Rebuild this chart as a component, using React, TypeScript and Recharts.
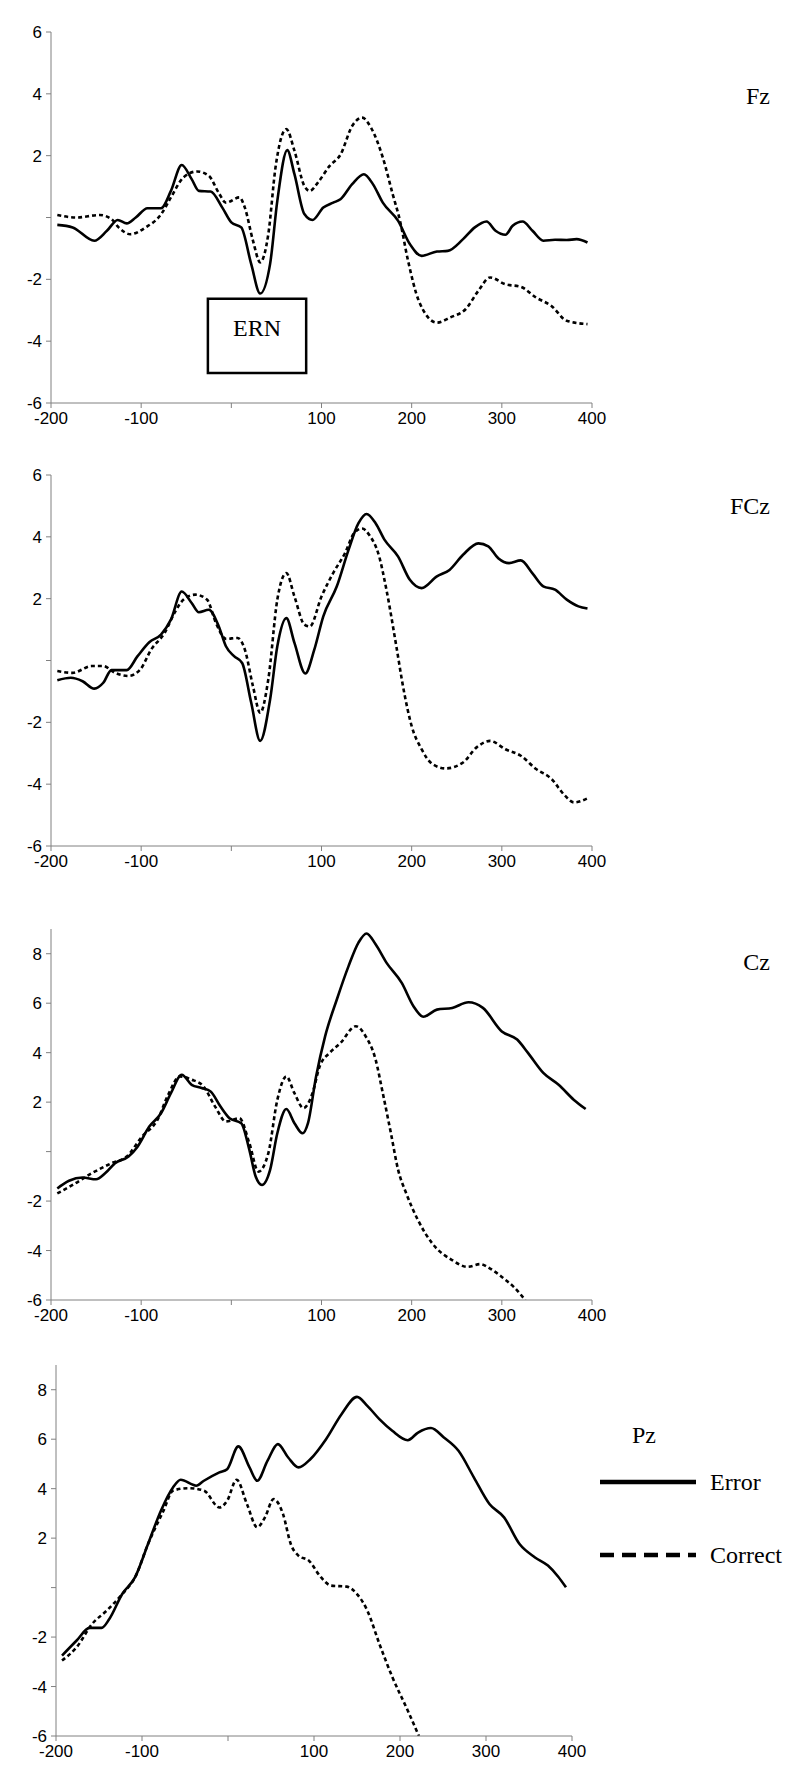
import { LineChart, Line, XAxis, YAxis, ReferenceArea, Label } from 'recharts';

// time axis (ms) and voltage ticks
const timeTicks = [-200, -100, 0, 100, 200, 300, 400];
const voltTicks6 = [-6, -4, -2, 0, 2, 4, 6];
const voltTicks8 = [-6, -4, -2, 0, 2, 4, 6, 8];

// [ms, µV]
const fzError = [
  [-193, -0.24], [-176, -0.32], [-152, -0.75], [-138, -0.43], [-126, -0.08], [-116, -0.19],
  [-106, 0], [-93, 0.3], [-78, 0.3], [-67, 0.86], [-55, 1.7], [-44, 1.24], [-36, 0.86],
  [-23, 0.84], [-10, 0.32], [0, -0.16], [11, -0.32], [22, -1.5], [32, -2.46], [43, -1.5],
  [51, 0.54], [62, 2.18], [70, 1.4], [81, 0.11], [90, -0.08], [102, 0.32], [113, 0.48],
  [121, 0.59], [134, 1.08], [147, 1.4], [157, 1.08], [168, 0.48], [185, -0.11], [198, -0.86],
  [211, -1.24], [228, -1.1], [240, -1.08], [257, -0.7], [270, -0.32], [283, -0.13], [293, -0.43],
  [304, -0.56], [312, -0.27], [323, -0.13], [334, -0.43], [346, -0.75], [359, -0.72],
  [372, -0.73], [383, -0.7], [395, -0.81],
];
const fzCorrect = [
  [-193, 0.08], [-172, 0], [-146, 0.08], [-133, -0.05], [-125, -0.32], [-112, -0.54],
  [-95, -0.32], [-78, 0.1], [-67, 0.65], [-53, 1.3], [-38, 1.49], [-25, 1.35], [-14, 0.8],
  [-6, 0.48], [9, 0.65], [15, 0.32], [24, -0.75], [32, -1.45], [41, -0.54], [49, 1.62],
  [61, 2.86], [70, 2.16], [81, 1.02], [87, 0.86], [96, 1.13], [109, 1.67], [121, 2.03],
  [134, 2.96], [145, 3.23], [155, 2.9], [168, 1.94], [179, 0.75], [187, -0.1], [196, -1.4],
  [208, -2.7], [228, -3.4], [243, -3.23], [260, -2.96], [274, -2.37], [287, -1.94],
  [304, -2.16], [321, -2.24], [338, -2.59], [355, -2.86], [372, -3.34], [395, -3.45],
];

const fczError = [
  [-193, -0.64], [-178, -0.56], [-165, -0.67], [-152, -0.91], [-142, -0.72], [-133, -0.31],
  [-116, -0.31], [-104, 0.14], [-91, 0.59], [-78, 0.84], [-67, 1.32], [-55, 2.23], [-44, 1.86],
  [-36, 1.56], [-25, 1.64], [-14, 1.11], [-6, 0.46], [3, 0.14], [12, -0.08], [22, -1.36],
  [32, -2.6], [43, -1.26], [51, 0.46], [61, 1.37], [70, 0.57], [82, -0.42], [92, 0.35],
  [102, 1.43], [117, 2.4], [130, 3.58], [141, 4.44], [150, 4.74], [160, 4.44], [170, 3.9],
  [185, 3.36], [198, 2.61], [211, 2.34], [228, 2.72], [242, 2.93], [257, 3.42], [274, 3.79],
  [285, 3.69], [296, 3.31], [308, 3.15], [321, 3.24], [334, 2.82], [346, 2.4], [359, 2.29],
  [372, 1.97], [385, 1.75], [395, 1.68],
];
const fczCorrect = [
  [-193, -0.34], [-176, -0.4], [-155, -0.18], [-142, -0.18], [-129, -0.4], [-114, -0.5],
  [-101, -0.29], [-89, 0.35], [-74, 0.89], [-63, 1.54], [-53, 1.97], [-40, 2.13], [-27, 1.97],
  [-17, 1.21], [-6, 0.7], [7, 0.73], [15, 0.35], [24, -0.83], [32, -1.69], [41, -0.61],
  [51, 1.97], [61, 2.83], [70, 2.07], [81, 1.16], [87, 1.1], [100, 2.07], [113, 2.83],
  [126, 3.47], [136, 4.11], [145, 4.27], [153, 4.06], [164, 3.36], [172, 2.29], [183, 0.46],
  [191, -0.93], [200, -2.12], [211, -2.87], [223, -3.35], [238, -3.49], [257, -3.3],
  [272, -2.81], [287, -2.6], [304, -2.87], [321, -3.08], [338, -3.51], [355, -3.83],
  [370, -4.37], [380, -4.59], [395, -4.46],
];

const czError = [
  [-193, -1.49], [-180, -1.18], [-165, -1.05], [-150, -1.12], [-140, -0.88], [-129, -0.47],
  [-114, -0.2], [-104, 0.2], [-91, 1.01], [-78, 1.55], [-67, 2.36], [-55, 3.11], [-44, 2.7],
  [-33, 2.57], [-23, 2.43], [-12, 1.82], [-2, 1.35], [11, 1.15], [20, 0.07], [27, -1.01],
  [34, -1.35], [43, -0.74], [51, 0.74], [61, 1.72], [70, 1.15], [79, 0.74], [85, 1.15],
  [94, 3.04], [104, 4.66], [117, 6.15], [130, 7.5], [141, 8.45], [150, 8.82], [160, 8.38],
  [172, 7.64], [189, 6.82], [202, 5.88], [213, 5.45], [228, 5.74], [245, 5.81], [263, 6.04],
  [279, 5.81], [300, 4.86], [317, 4.53], [329, 3.99], [346, 3.18], [363, 2.7], [380, 2.09],
  [393, 1.72],
];
const czCorrect = [
  [-193, -1.69], [-176, -1.35], [-155, -0.88], [-133, -0.47], [-116, -0.2], [-99, 0.61],
  [-82, 1.28], [-70, 2.3], [-57, 3.04], [-44, 2.91], [-31, 2.64], [-18, 1.82], [-6, 1.22],
  [9, 1.35], [20, 0.34], [30, -0.81], [41, -0.07], [51, 2.09], [61, 3.04], [70, 2.36],
  [80, 1.76], [90, 2.36], [98, 3.45], [109, 3.99], [121, 4.39], [138, 5.07], [149, 4.66],
  [160, 3.72], [168, 2.36], [177, 0.74], [185, -0.74], [194, -1.69], [207, -2.77],
  [223, -3.72], [245, -4.39], [262, -4.66], [276, -4.55], [287, -4.73], [300, -5.07],
  [314, -5.5], [326, -6],
];

const pzError = [
  [-193, -2.75], [-176, -2.14], [-161, -1.63], [-147, -1.63], [-138, -1.27], [-123, -0.26],
  [-108, 0.42], [-93, 1.76], [-78, 3.11], [-64, 4.05], [-55, 4.36], [-37, 4.12], [-28, 4.32],
  [-10, 4.66], [-1, 4.79], [12, 5.71], [25, 4.86], [34, 4.32], [46, 5.13], [58, 5.8],
  [70, 5.26], [82, 4.86], [96, 5.2], [114, 6.0], [132, 7.01], [150, 7.71], [162, 7.35],
  [176, 6.81], [191, 6.34], [209, 5.96], [221, 6.27], [236, 6.45], [251, 6.07], [268, 5.53],
  [286, 4.45], [304, 3.38], [321, 2.84], [339, 1.76], [357, 1.22], [372, 0.89], [384, 0.44],
  [393, 0.01],
];
const pzCorrect = [
  [-193, -2.95], [-176, -2.41], [-158, -1.47], [-141, -0.93], [-123, -0.26], [-108, 0.42],
  [-93, 1.76], [-75, 3.11], [-64, 3.92], [-46, 4.02], [-28, 3.92], [-10, 3.24], [-1, 3.51],
  [10, 4.36], [22, 3.38], [34, 2.44], [43, 2.84], [53, 3.58], [64, 2.97], [73, 1.76],
  [82, 1.29], [94, 1.09], [108, 0.42], [120, 0.08], [138, 0.04], [150, -0.26], [162, -0.93],
  [176, -2.27], [191, -3.61], [209, -4.97], [222, -6],
];

const toRows = (pts: number[][]) => pts.map(([t, v]) => ({ t, v }));

const sans = '"Liberation Sans", Arial, sans-serif';
const serif = '"Liberation Serif", "Times New Roman", serif';
const axisColor = '#808080';

interface PanelProps {
  error: number[][];
  correct: number[][];
  yMax: number;
  yTicks: number[];
  top: number;
  axisLeft: number;
  axisRight: number;
  children?: React.ReactNode;
}

// plot area spans 32px..403px inside each chart, x-axis strip below it
function Panel({ error, correct, yMax, yTicks, top, axisLeft, axisRight, children }: PanelProps) {
  const tickStyle = { fill: '#000', fontSize: 17, fontFamily: sans };
  return (
    <div style={{ position: 'absolute', left: 0, top }}>
      <LineChart width={800} height={435} margin={{ top: 32, right: 800 - axisRight, left: 0, bottom: 0 }}>
        <XAxis
          type="number"
          dataKey="t"
          domain={[-200, 400]}
          ticks={timeTicks}
          height={32}
          stroke={axisColor}
          tickLine={{ stroke: axisColor }}
          tickSize={5}
          tickMargin={4}
          tick={tickStyle}
          tickFormatter={(v) => (v === 0 ? '' : String(v))}
          allowDataOverflow
        />
        <YAxis
          type="number"
          domain={[-6, yMax]}
          ticks={yTicks}
          width={axisLeft}
          stroke={axisColor}
          tickLine={{ stroke: axisColor }}
          tickSize={5}
          tickMargin={4}
          tick={tickStyle}
          tickFormatter={(v) => (v === 0 ? '' : String(v))}
          allowDataOverflow
        />
        {children}
        <Line
          data={toRows(correct)}
          dataKey="v"
          type="monotone"
          stroke="#000"
          strokeWidth={2.6}
          strokeDasharray="4 3"
          dot={false}
          isAnimationActive={false}
        />
        <Line
          data={toRows(error)}
          dataKey="v"
          type="monotone"
          stroke="#000"
          strokeWidth={2.6}
          dot={false}
          isAnimationActive={false}
        />
      </LineChart>
    </div>
  );
}

const titleStyle = (right: number, top: number): React.CSSProperties => ({
  position: 'absolute',
  right,
  top,
  fontFamily: serif,
  fontSize: 24,
  lineHeight: '24px',
  color: '#000',
});

export default function App() {
  return (
    <div style={{ position: 'relative', width: 800, height: 1775, background: '#fff', overflow: 'hidden' }}>
      <style>{'body{margin:0;}'}</style>

      <Panel error={fzError} correct={fzCorrect} yMax={6} yTicks={voltTicks6} top={0} axisLeft={51} axisRight={592}>
        <ReferenceArea
          x1={-26}
          x2={83}
          y1={-5.03}
          y2={-2.63}
          fill="#fff"
          fillOpacity={1}
          stroke="#000"
          strokeWidth={2.5}
        >
          <Label value="ERN" position="center" dy={-8} fill="#000" fontSize={24} fontFamily={serif} />
        </ReferenceArea>
      </Panel>
      <div style={titleStyle(30, 84)}>Fz</div>

      <Panel error={fczError} correct={fczCorrect} yMax={6} yTicks={voltTicks6} top={443} axisLeft={51} axisRight={592} />
      <div style={titleStyle(30, 494)}>FCz</div>

      <Panel error={czError} correct={czCorrect} yMax={9} yTicks={voltTicks8} top={897} axisLeft={51} axisRight={592} />
      <div style={titleStyle(30, 950)}>Cz</div>

      <Panel error={pzError} correct={pzCorrect} yMax={9} yTicks={voltTicks8} top={1333} axisLeft={56} axisRight={572} />
      <div style={titleStyle(144, 1423)}>Pz</div>

      <div style={{ position: 'absolute', left: 600, top: 1464 }}>
        <svg width={200} height={110} style={{ display: 'block' }}>
          <line x1={0} y1={18} x2={96} y2={18} stroke="#000" strokeWidth={4.5} />
          <text x={110} y={26} fontFamily={serif} fontSize={24} fill="#000">Error</text>
          <line x1={0} y1={91} x2={96} y2={91} stroke="#000" strokeWidth={4.5} strokeDasharray="14 8" />
          <text x={110} y={99} fontFamily={serif} fontSize={24} fill="#000">Correct</text>
        </svg>
      </div>
    </div>
  );
}
